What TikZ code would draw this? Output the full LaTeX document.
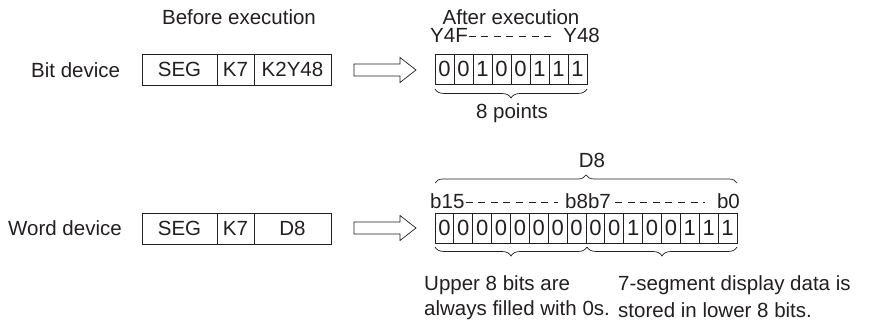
\documentclass[tikz,border=0pt]{standalone}
\usepackage{fontspec}
\setmainfont{Liberation Sans}
\usetikzlibrary{decorations.pathreplacing}
\definecolor{ink}{HTML}{231F20}
\begin{document}
\begin{tikzpicture}[x=1pt,y=-1pt,
  font=\fontsize{20.5}{24}\selectfont,
  every node/.style={inner sep=0pt,text=ink},
  lbl/.style={},
  instr/.style={draw=ink,line width=0.8pt,minimum height=31pt,inner sep=0pt},
  cell/.style={draw=ink,line width=0.8pt,minimum height=30pt,inner sep=0pt,font=\fontsize{22}{24}\selectfont},
  blockarrow/.style={draw=ink,line width=0.7pt,fill=white},
  dashline/.style={draw=ink,line width=0.7pt,dash pattern=on 7pt off 5.6pt},
  bracedown/.style={draw=ink,line width=0.7pt,decorate,decoration={brace,mirror,amplitude=9pt}},
  braceup/.style={draw=ink,line width=0.7pt,decorate,decoration={brace,amplitude=8pt}}]
\useasboundingbox (0,0) rectangle (872,329);

% headings
\node[lbl] (before) at (239,17) {Before execution};
\node[lbl] (after) at (511,17) {After execution};

% bit device row
\node[lbl,anchor=west] (bitlbl) at (31,70) {Bit device};
\node[instr,minimum width=75pt] (bseg) at (179.5,69.5) {SEG};
\node[instr,minimum width=37pt] (bk7) at (235.5,69.5) {K7};
\node[instr,minimum width=77pt] (bdst) at (292.5,69.5) {K2Y48};
\path[blockarrow] (354,64) -- (400,64) -- (400,57.5) -- (416,70) -- (400,82.5) -- (400,76) -- (354,76) -- cycle;

\node[lbl,anchor=west] (y4f) at (430,35) {Y4F};
\node[lbl,anchor=east] (y48) at (600,35) {Y48};
\draw[dashline] ([xshift=0.5pt]y4f.east |- 0,36) -- ([xshift=-7pt]y48.west |- 0,36);

\foreach \v [count=\i from 0] in {0,0,1,0,0,1,1,1}{
  \node[cell,minimum width=19pt] (bc\i) at ({444.5+19*\i},69) {\v};
}
\coordinate (bbl) at (435,89);
\coordinate (bbr) at (587,89);
\draw[bracedown] (bbl) -- (bbr);
\node[lbl] (pts) at (512,113) {8 points};

% word device row
\node[lbl,anchor=west] (wordlbl) at (8,228) {Word device};
\node[instr,minimum width=75pt] (wseg) at (179.5,228.5) {SEG};
\node[instr,minimum width=37pt] (wk7) at (235.5,228.5) {K7};
\node[instr,minimum width=77pt] (wdst) at (292.5,228.5) {D8};
\path[blockarrow] (354,222) -- (400,222) -- (400,215.5) -- (416,228) -- (400,240.5) -- (400,234) -- (354,234) -- cycle;

\foreach \v [count=\i from 0] in {0,0,0,0,0,0,0,0,0,0,1,0,0,1,1,1}{
  \node[cell,minimum width=18.875pt] (wc\i) at ({444.44+18.875*\i},228) {\v};
}
\coordinate (dtl) at (435,183);
\coordinate (dtr) at (737,183);
\draw[braceup] (dtl) -- (dtr);
\node[lbl] (d8) at (592,160) {D8};

\node[lbl,anchor=west] (b15) at (430,201) {b15};
\node[lbl] (b8b7) at (588,201) {b8b7};
\node[lbl,anchor=east] (b0) at (740,201) {b0};
\draw[dashline] ([xshift=1pt]b15.east |- 0,202) -- ([xshift=-7pt]b8b7.west |- 0,202);
\draw[dashline] ([xshift=4pt]b8b7.east |- 0,202) -- ([xshift=-12pt]b0.west |- 0,202);

\coordinate (wbl) at (435,247);
\coordinate (wbm) at (587,247);
\coordinate (wbr) at (737,247);
\draw[bracedown] (wbl) -- (wbm);
\draw[bracedown] (wbm) -- (wbr);

\node[lbl,anchor=west] (up1) at (424,285) {Upper 8 bits are};
\node[lbl,anchor=west] (up2) at (424,310) {always filled with 0s.};
\node[lbl,anchor=west] (lo1) at (618,285) {7-segment display data is};
\node[lbl,anchor=west] (lo2) at (618,310) {stored in lower 8 bits.};
\end{tikzpicture}
\end{document}
